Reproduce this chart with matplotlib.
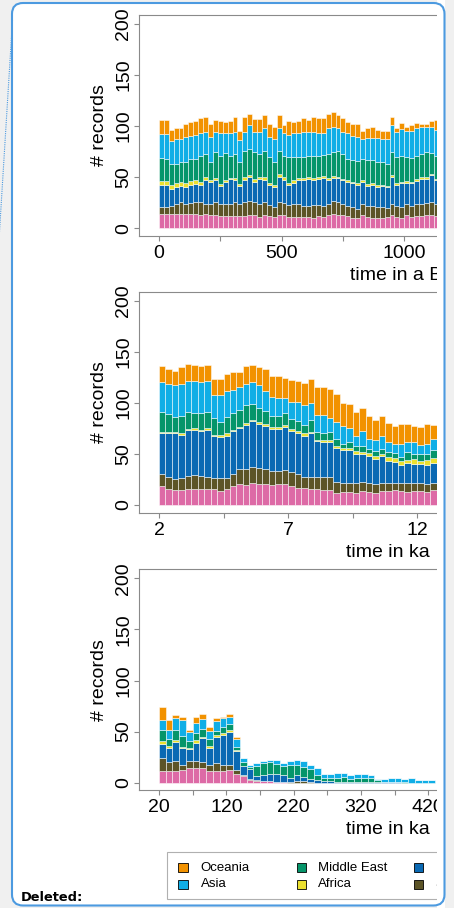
import numpy as np
import matplotlib
matplotlib.use("Agg")
import matplotlib.pyplot as plt
from matplotlib.patches import FancyBboxPatch, Rectangle
from matplotlib.lines import Line2D
from matplotlib.transforms import IdentityTransform

plt.rcParams["font.family"] = ["Liberation Sans", "DejaVu Sans"]

# ══════════════════════════════════════════════════════════════════════════════
# DATA  (cumulative stack tops, bottom -> top)
# ══════════════════════════════════════════════════════════════════════════════

REGIONS = ["Europe", "South America", "North America", "Africa",
           "Middle East", "Asia", "Oceania"]
COLORS  = ["#dd6aa6", "#5c5427", "#0a69b3", "#ebe02f",
           "#05956a", "#10aee6", "#f29200"]

# panel 1 : 20-yr bins, time in a BP
p1_start = np.arange(0, 1140, 20)
p1_eu = [14,14,14,14,14,14,14,14,13,14,13,13,12,12,12,12,12,12,13,13,11,13,12,11,13,13,11,11,11,11,
         11,10,12,11,13,14,13,13,12,10,10,13,11,10,10,10,11,13,11,10,13,11,12,12,13,13,12]
p1_sa = [21,21,22,24,26,24,25,26,26,24,24,26,24,24,24,26,24,26,27,26,24,26,23,21,26,25,23,24,24,22,
         22,23,23,22,24,27,26,24,22,21,19,24,22,22,21,21,20,24,22,21,24,22,24,24,25,26,24]
p1_na = [42,42,38,40,41,40,42,43,42,47,45,47,41,45,48,47,41,47,50,45,48,47,42,40,50,47,42,44,47,47,
         48,47,48,49,47,49,49,47,45,44,42,45,41,42,40,41,40,50,42,44,44,44,46,48,48,52,47]
p1_af = [46,46,42,44,45,44,46,47,45,50,47,49,43,47,49,49,43,50,52,48,50,50,44,42,53,50,44,47,49,49,
         50,49,50,51,49,51,50,48,47,45,44,47,43,44,42,42,41,52,44,45,46,45,48,50,50,53,48]
p1_me = [69,68,63,63,65,65,68,68,71,73,65,75,71,74,71,73,65,76,78,75,73,76,70,65,76,71,70,70,70,70,
         71,71,71,72,73,75,76,73,68,67,66,68,67,67,65,65,63,75,70,71,70,69,71,73,75,74,71]
p1_as = [92,92,85,87,87,89,90,91,93,94,89,94,93,93,93,94,86,94,101,94,94,98,89,87,98,93,91,93,93,94,
         94,94,93,93,98,99,98,94,93,90,89,87,88,88,88,87,87,101,94,97,95,95,98,99,99,99,96]
p1_oc = [106,106,96,98,98,102,104,105,108,109,102,106,105,104,105,109,95,109,112,107,107,111,102,99,111,101,105,104,105,108,
         106,109,108,108,112,114,111,108,104,102,102,95,98,99,96,95,95,109,98,103,99,101,103,102,102,105,106]

# panel 2 : 0.25-ka bins, time in ka
p2_start = np.arange(2, 12.75, 0.25)
p2_eu = [19,16,15,15,16,16,16,16,16,14,16,19,21,20,22,21,21,20,21,21,19,17,17,16,16,15,15,12,13,13,
         12,14,13,12,14,14,15,14,13,14,14,13,15]
p2_sa = [30,27,25,26,28,29,28,27,26,26,26,30,35,35,37,36,35,33,33,34,32,30,27,27,27,27,27,23,22,22,
         22,23,22,21,22,22,22,22,22,22,22,21,22]
p2_na = [70,70,70,69,73,73,72,73,68,67,68,72,75,78,82,79,77,74,74,76,72,70,68,70,63,62,62,56,54,54,
         50,50,48,45,48,43,42,39,41,40,40,39,41]
p2_af = [71,71,71,70,74,75,73,75,69,69,70,73,76,80,83,81,79,76,76,78,74,72,70,71,64,64,64,58,56,56,
         53,52,51,48,50,47,46,43,44,45,43,44,46]
p2_me = [91,89,86,87,91,90,90,91,85,81,86,90,93,98,99,95,92,87,87,90,84,82,78,83,71,70,71,65,60,62,
         58,58,55,53,55,52,51,47,52,50,50,50,54]
p2_as = [120,118,117,118,121,121,120,121,108,108,112,113,115,118,120,117,112,106,105,105,101,101,98,100,88,88,85,81,77,75,
         68,72,65,64,68,62,60,60,62,62,59,60,65]
p2_oc = [136,133,131,135,138,137,136,137,123,123,128,130,130,136,137,135,133,126,126,124,122,121,119,123,115,115,114,109,100,99,
         91,95,87,83,87,80,77,79,79,77,76,79,78]

# panel 3 : 10-ka bins, time in ka
p3_start = np.arange(20, 430, 10)
p3_eu = [11,11,11,12,14,14,14,11,11,11,12,9,7,3,2,2,2,1,1,0,0,0,0,0,0,0,0,0,0,0,0,0,0,0,0,0,0,0,0,0,0]
p3_sa = [24,20,21,17,21,21,20,17,19,17,17,12,8,4,3,2,2,1,1,1,2,2,1,0,0,0,0,0,0,0,0,0,0,0,0,0,0,0,0,0,0]
p3_na = [38,34,40,34,33,39,44,34,45,47,50,31,16,13,7,8,9,9,8,5,8,6,4,3,2,2,1,1,1,1,1,1,1,1,1,1,0,0,0,0,0]
p3_af = [41,36,42,35,34,42,45,36,47,49,52,32,16,13,7,8,9,9,8,5,8,6,4,3,2,2,1,1,1,1,1,1,1,1,1,1,0,0,0,0,0]
p3_me = [52,43,52,46,41,49,53,43,51,55,57,35,20,15,16,19,20,18,16,17,17,15,13,8,5,5,5,6,4,5,5,5,3,1,1,1,1,0,0,0,0]
p3_as = [61,52,63,61,50,58,62,51,60,63,64,43,24,17,19,21,22,22,19,21,22,21,17,14,9,9,10,10,8,9,9,8,4,4,5,5,4,5,3,3,3]
p3_oc = [74,61,66,64,52,64,67,55,63,64,67,45,24,17,19,21,22,22,19,21,22,21,17,14,9,9,10,10,8,9,9,8,4,4,5,5,4,5,3,3,3]


# ══════════════════════════════════════════════════════════════════════════════
# FIGURE / BALLOON
# ══════════════════════════════════════════════════════════════════════════════

W, H = 454, 908
BORDER = "#4c9ae0"
GREY   = "#8a8a8a"

fig = plt.figure(figsize=(W / 100, H / 100), dpi=100, facecolor="#f0f0f0")

# white comment balloon behind the axes
fig.add_artist(FancyBboxPatch((12, H - 905.5), 432.5, 902.5,
                              boxstyle="round,pad=0,rounding_size=11",
                              transform=IdentityTransform(),
                              facecolor="white", edgecolor="none", zorder=-5))


def stacked(ax, starts, width, levels):
    prev = np.zeros(len(starts))
    for lev, col in zip(levels, COLORS):
        lev = np.asarray(lev, dtype=float)
        ax.bar(starts, lev - prev, width=width, bottom=prev, align="edge",
               color=col, edgecolor=(1, 1, 1, 0.6), linewidth=0.6)
        prev = lev


def style_axes(ax, xlim, xticks, xticklabels, xlabel, label_x):
    ax.set_xlim(*xlim)
    ax.set_ylim(-7.5, 208.7)
    ax.set_yticks([0, 50, 100, 150, 200])
    ax.set_xticks(xticks)
    ax.set_xticklabels(xticklabels)
    for side in ("left", "bottom", "top"):
        ax.spines[side].set_color(GREY)
        ax.spines[side].set_linewidth(0.8)
    ax.spines["right"].set_visible(False)
    ax.tick_params(direction="out", length=3.5, width=0.8, color=GREY,
                   labelsize=14, labelcolor="black")
    ax.tick_params(axis="x", pad=3)
    ax.tick_params(axis="y", pad=1.5, labelrotation=90)
    for lab in ax.get_yticklabels():
        lab.set_va("center")
    ax.set_ylabel("# records", fontsize=14)
    ax.yaxis.set_label_coords(-0.135, 0.5)
    ax.yaxis.label.set_va("center")
    ax.set_xlabel(xlabel, fontsize=14, ha="left", va="center")
    ax.xaxis.set_label_coords(label_x, -0.178)


zero_px = [228.3, 505.0, 782.7]
axes = []
for z in zero_px:
    top, bottom = z - 213.3, z + 7.7
    axes.append(fig.add_axes([139.3 / W, 1 - bottom / H, (437 - 139.3) / W, (bottom - top) / H]))

stacked(axes[0], p1_start, 20, [p1_eu, p1_sa, p1_na, p1_af, p1_me, p1_as, p1_oc])
style_axes(axes[0], (-80, 1133.5), [0, 250, 500, 750, 1000],
           ["0", "", "500", "", "1000"], "time in a BP", 0.708)

stacked(axes[1], p2_start, 0.25, [p2_eu, p2_sa, p2_na, p2_af, p2_me, p2_as, p2_oc])
style_axes(axes[1], (1.24, 12.76), [2, 4.5, 7, 9.5, 12],
           ["2", "", "7", "", "12"], "time in ka", 0.694)

stacked(axes[2], p3_start, 10, [p3_eu, p3_sa, p3_na, p3_af, p3_me, p3_as, p3_oc])
style_axes(axes[2], (-9.3, 433), [20, 70, 120, 170, 220, 270, 320, 370, 420],
           ["20", "", "120", "", "220", "", "320", "", "420"], "time in ka", 0.694)


# ══════════════════════════════════════════════════════════════════════════════
# LEGEND  (drawn by hand, cut by the balloon edge)
# ══════════════════════════════════════════════════════════════════════════════

def px(x, y):
    return x / W, 1 - y / H


fig.add_artist(Rectangle(px(167, 899.3), 300 / W, 47.6 / H, transform=fig.transFigure,
                         facecolor="white", edgecolor="#b0b0b0", linewidth=0.8, zorder=2))

leg_order = [6, 5, 4, 3, 2, 1, 0]
col_x  = [183, 301.3, 418.7]
text_x = [200.7, 318.3, 436]
row_y  = [867.7, 884.3]
for k, ri in enumerate(leg_order):
    c, r = divmod(k, 2)
    if c >= len(col_x):
        break
    x0, y0 = px(col_x[c] - 4.6, row_y[r] + 4.4)
    fig.add_artist(Rectangle((x0, y0), 9.2 / W, 8.8 / H, transform=fig.transFigure,
                             facecolor=COLORS[ri], edgecolor="black", linewidth=0.6, zorder=3))
    fig.text(*px(text_x[c], row_y[r]), REGIONS[ri], fontsize=9.5, ha="left",
             va="center", zorder=3)


# ══════════════════════════════════════════════════════════════════════════════
# BALLOON EDGE, CLIPPING, CONNECTOR
# ══════════════════════════════════════════════════════════════════════════════

fig.add_artist(Rectangle((437, 0), 8, H, transform=IdentityTransform(),
                         facecolor="white", edgecolor="none", zorder=8))
fig.add_artist(Rectangle((445, 0), 20, H, transform=IdentityTransform(),
                         facecolor="#f0f0f0", edgecolor="none", zorder=8))
fig.add_artist(FancyBboxPatch((12, H - 905.5), 432.5, 902.5,
                              boxstyle="round,pad=0,rounding_size=11",
                              transform=IdentityTransform(),
                              facecolor="none", edgecolor=BORDER, linewidth=1.5, zorder=10))
fig.add_artist(Line2D([12.5, -1], [H - 20, H - 240], transform=IdentityTransform(),
                      color=BORDER, linewidth=0.8, linestyle=(0, (1, 1)), zorder=10))

fig.text(*px(20.5, 897.5), "Deleted:", fontsize=9.4, fontweight="bold",
         family="DejaVu Sans", ha="left", va="center", zorder=10)

fig.savefig("out.png", dpi=100, facecolor=fig.get_facecolor())
